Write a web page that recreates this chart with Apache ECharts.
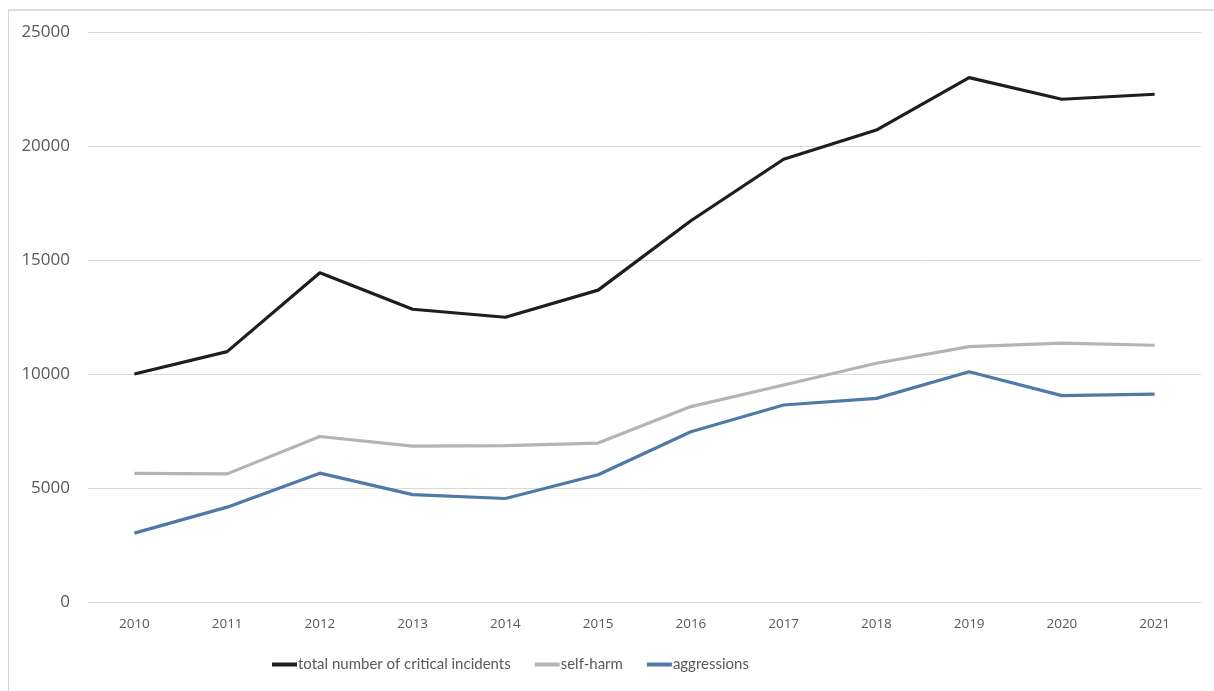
<!DOCTYPE html>
<html>
<head>
<meta charset="utf-8">
<title>Critical incidents 2010–2021</title>
<script src="https://cdn.jsdelivr.net/npm/echarts@6/dist/echarts.min.js"></script>
<style>
  html, body { margin: 0; padding: 0; background: #ffffff; }
  #frame {
    position: absolute; left: 8px; top: 9px; width: 1220px; height: 700px;
    border-top: 2px solid #dedede; border-left: 1px solid #d6d6d6;
    box-sizing: border-box; pointer-events: none;
  }
  #chart { width: 1214px; height: 691px; }
</style>
</head>
<body>
<div id="chart"></div>
<div id="frame"></div>
<script>
// Years on the category axis
const years = ['2010', '2011', '2012', '2013', '2014', '2015', '2016', '2017', '2018', '2019', '2020', '2021'];

// Yearly counts per series
const totalIncidents = [10000, 10980, 14440, 12840, 12490, 13680, 16720, 19420, 20700, 23000, 22050, 22270];
const selfHarm       = [5640, 5620, 7260, 6840, 6860, 6970, 8570, 9520, 10470, 11200, 11350, 11260];
const aggressions    = [3020, 4160, 5650, 4710, 4540, 5580, 7470, 8640, 8930, 10100, 9050, 9120];

// Series names shown in the legend
const seriesNames = ['total number of critical incidents', 'self-harm', 'aggressions'];

const colors = ['#1e1e1e', '#b4b4b4', '#5079a6'];
const seriesData = [totalIncidents, selfHarm, aggressions];

const chart = echarts.init(document.getElementById('chart'), null, { renderer: 'canvas' });

chart.setOption({
  backgroundColor: '#ffffff',
  animation: false,
  grid: { left: 88, right: 13, top: 32, bottom: 89, containLabel: false },
  xAxis: {
    type: 'category',
    data: years,
    boundaryGap: true,
    axisLine: { show: true, lineStyle: { color: '#d9d9d9', width: 1 } },
    axisTick: { show: false },
    axisLabel: {
      color: '#595959', fontFamily: 'Open Sans', fontSize: 13.5, margin: 15
    }
  },
  yAxis: {
    type: 'value',
    min: 0, max: 25000, interval: 5000,
    axisLine: { show: false },
    axisTick: { show: false },
    splitLine: { lineStyle: { color: '#d9d9d9', width: 1 } },
    axisLabel: {
      color: '#595959', fontFamily: 'Open Sans', fontSize: 17, margin: 18,
      formatter: (v) => String(v)
    }
  },
  legend: {
    bottom: 14,
    left: 267,
    itemWidth: 25,
    itemHeight: 4,
    itemGap: 24,
    icon: 'rect',
    textStyle: {
      color: '#595959', fontFamily: 'Lato', fontSize: 15,
      padding: [0, 0, 0, -4]
    },
    data: seriesNames
  },
  series: seriesNames.map((name, i) => ({
    name: name,
    type: 'line',
    data: seriesData[i],
    symbol: 'none',
    smooth: false,
    z: 3 - i,
    lineStyle: { color: colors[i], width: 3.2, join: 'round' },
    itemStyle: { color: colors[i] }
  }))
});
</script>
</body>
</html>
